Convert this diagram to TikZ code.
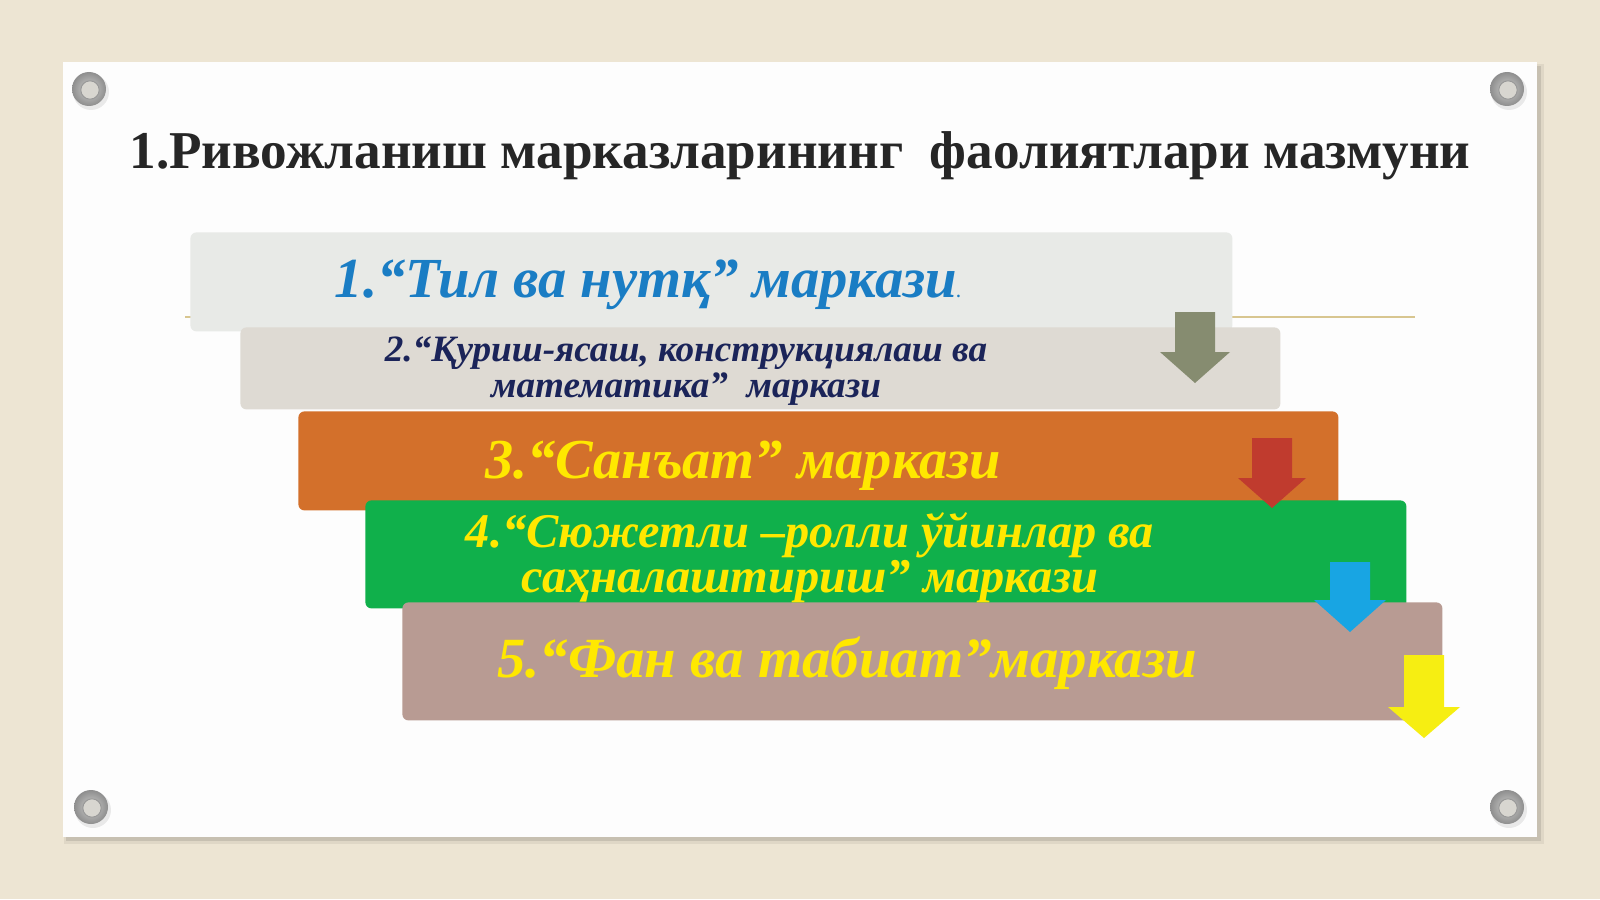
\documentclass[tikz,border=0pt]{standalone}
\usepackage{fontspec}
\setmainfont{Liberation Serif}
\definecolor{bgc}{HTML}{EDE5D3}
\definecolor{cardc}{HTML}{FDFDFD}
\definecolor{boxA}{HTML}{E8EAE7}
\definecolor{boxB}{HTML}{DEDAD3}
\definecolor{boxC}{HTML}{D3702B}
\definecolor{boxD}{HTML}{10B04B}
\definecolor{boxE}{HTML}{B89B93}
\definecolor{arrA}{HTML}{868C70}
\definecolor{arrB}{HTML}{C03B2E}
\definecolor{arrC}{HTML}{18A5E3}
\definecolor{arrD}{HTML}{F6EE12}
\definecolor{txtA}{HTML}{1A7DC4}
\definecolor{txtB}{HTML}{1B2459}
\definecolor{txtY}{HTML}{FFE800}
\definecolor{titc}{HTML}{262626}
\definecolor{linec}{HTML}{D8C690}
\definecolor{scrA}{HTML}{8E8E8E}
\definecolor{scrB}{HTML}{CFCFCD}
\definecolor{scrC}{HTML}{D8D6D0}
\newcommand\downarr[7]{% color, cx, top, headstart, tip, shafthalf, headhalf
  \fill[#1] (#2-#6,#3) -- (#2+#6,#3) -- (#2+#6,#4) -- (#2+#7,#4) -- (#2,#5)
    -- (#2-#7,#4) -- (#2-#6,#4) -- cycle;}
\newcommand\screw[2]{%
  \fill[black,opacity=0.08] (#1+2,#2+3) circle (9pt);
  \shade[inner color=scrB, outer color=scrA] (#1,#2) circle (8.5pt);
  \fill[scrC] (#1+1,#2+1) circle (4.6pt);
  \draw[gray!80, line width=0.5pt] (#1+1,#2+1) circle (4.6pt);}
\tikzset{
  box/.style={rectangle, rounded corners=3pt, inner sep=0pt, anchor=north west},
  lbl/.style={inner sep=0pt, align=center, font=\bfseries\itshape},
}
\begin{document}
\begin{tikzpicture}[x=0.5pt,y=-0.5pt]
\useasboundingbox (0,0) rectangle (1600,899);
\fill[bgc] (0,0) rectangle (1600,899);
% card
\fill[black,opacity=0.10] (66,66) rectangle (1541,841);
\fill[black,opacity=0.06] (64,64) rectangle (1544,844);
\fill[cardc] (63,62) rectangle (1537,837);
\screw{89}{89}
\screw{1507}{89}
\screw{91}{807}
\screw{1507}{807}
% title
\node[inner sep=0pt, font=\bfseries\fontsize{26.6}{32}\selectfont, text=titc] (title) at (800,156)
  {1.Ривожланиш марказларининг\ \ фаолиятлари мазмуни};
% tan line
\draw[linec, line width=0.8pt] (185,317) coordinate (la) -- (1415,317) coordinate (lb);
% boxes
\node[box, fill=boxA, minimum width=521pt, minimum height=49.5pt] (b1) at (190,232) {};
\node[box, fill=boxB, minimum width=520pt, minimum height=41pt] (b2) at (240,327) {};
\node[box, fill=boxC, minimum width=520pt, minimum height=49.5pt] (b3) at (298,411) {};
\node[box, fill=boxD, minimum width=520.5pt, minimum height=54pt] (b4) at (365,500) {};
\node[box, fill=boxE, minimum width=520pt, minimum height=59pt] (b5) at (402,602) {};
% arrows
\downarr{arrA}{1195}{312}{352}{383}{20}{35}
\downarr{arrB}{1272}{438}{478}{508}{20}{34}
\downarr{arrC}{1350}{562}{600}{632}{20}{36}
\downarr{arrD}{1424}{655}{707}{738}{20}{36}
% labels
\node[lbl, text=txtA, font=\bfseries\itshape\fontsize{28.3}{30}\selectfont] (t1) at (648,285)
  {1.“Тил ва нутқ” маркази{\fontsize{8}{8}\selectfont .}};
\node[lbl, text=txtB, font=\bfseries\itshape\fontsize{18.6}{18}\selectfont] (t2) at (686,371)
  {2.“Қуриш-ясаш, конструкциялаш ва\\математика”\ \ маркази};
\node[lbl, text=txtY, font=\bfseries\itshape\fontsize{28.2}{30}\selectfont] (t3) at (743,466)
  {3.“Санъат” маркази};
\node[lbl, text=txtY, font=\bfseries\itshape\fontsize{24.2}{22.5}\selectfont] (t4) at (810,558)
  {4.“Сюжетли –ролли ўйинлар ва\\саҳналаштириш” маркази};
\node[lbl, text=txtY, font=\bfseries\itshape\fontsize{28.4}{30}\selectfont] (t5) at (847,663)
  {5.“Фан ва табиат”маркази};
\end{tikzpicture}
\end{document}
